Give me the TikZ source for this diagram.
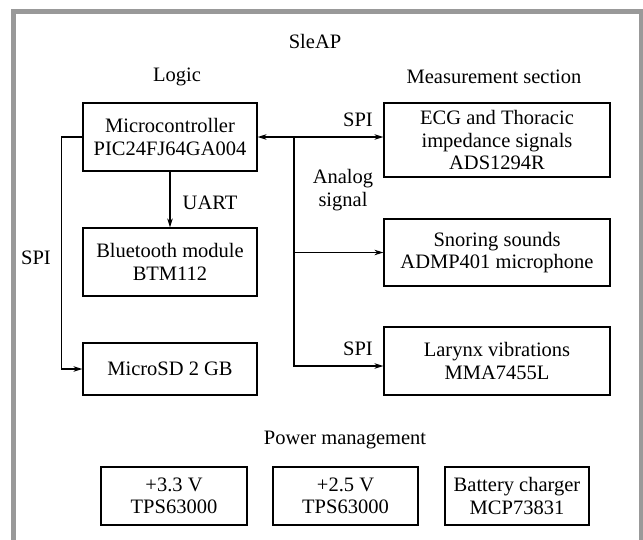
\documentclass[tikz,border=0pt]{standalone}
\usepackage{fontspec}
\setmainfont{Liberation Serif}
\usetikzlibrary{arrows.meta}
\begin{document}
\begin{tikzpicture}
[x=1pt,y=-1pt,
  every node/.style={font=\fontsize{20.5}{22.5}\selectfont},%
  boxdecorate/.style={shape=rectangle,draw,line width=1.2pt,align=center,inner sep=0pt},%
  labeldecorate/.style={align=center,inner sep=0pt},%
  linedecorate/.style={-{Stealth[length=9pt,width=5.5pt]},line width=1.1pt}]
\useasboundingbox (0,0) rectangle (643,539);
%% frame
\draw[black!40,line width=5pt] (13.5,560) -- (13.5,11.5) -- (641.5,11.5) -- (641.5,560);
%% blocks
\foreach \nodename/\x/\y/\w/\h/\content in {
  mcu/170/137/174/68/{Microcontroller\\PIC24FJ64GA004},
  bt/170/262/174/68/{Bluetooth module\\BTM112},
  sd/170/369/174/52/{MicroSD 2 GB},
  ecg/497/140/226/74/{ECG and Thoracic\\impedance signals\\ADS1294R},
  snore/497/252.5/226/67/{Snoring sounds\\ADMP401 microphone},
  larynx/497/361/226/68/{Larynx vibrations\\MMA7455L},
  psa/174/496/146/58/{+3.3 V\\TPS63000},
  psb/345.5/496/145/58/{+2.5 V\\TPS63000},
  chg/517/496/144/58/{Battery charger\\MCP73831}}
{
  \node (\nodename) at (\x,\y) [boxdecorate,minimum width=\w pt,minimum height=\h pt] {\content};
}
%% titles and labels
\foreach \nodename/\x/\y/\content in {
  sleap/315/41/{SleAP}, logic/177/77/{Logic}, meas/494/77/{Measurement section},
  power/345/440/{Power management}, spia/358/120/{SPI}, analog/343/190/{Analog\\signal},
  spib/358/349/{SPI}, spic/36/258/{SPI}, uart/210/203/{UART}}
{
  \node (\nodename) at (\x,\y) [labeldecorate] {\content};
}
%% connectors
\coordinate (bus) at (294,137);
\draw[linedecorate] (mcu.south) -- (bt.north);
\draw[linedecorate] (mcu.west) -- ++(-21,0) |- (sd.west);
\draw[linedecorate,{Stealth[length=9pt,width=5.5pt]}-{Stealth[length=9pt,width=5.5pt]}] (mcu.east) -- (ecg.west |- mcu.east);
\draw[linedecorate] (bus) |- (snore.west);
\draw[linedecorate] (bus) |- ([yshift=-5pt]larynx.west);
\end{tikzpicture}
\end{document}
